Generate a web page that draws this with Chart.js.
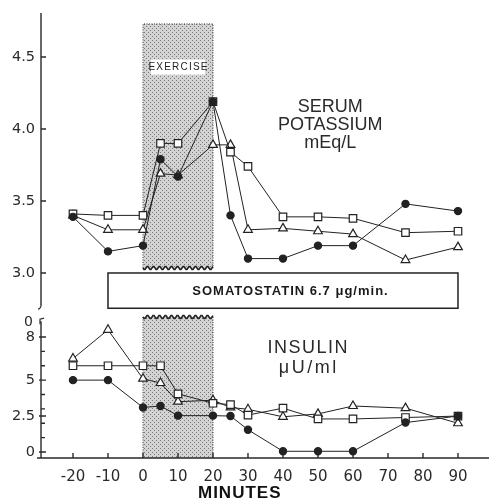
<!DOCTYPE html>
<html><head><meta charset="utf-8">
<script src="https://cdn.jsdelivr.net/npm/chart.js@4.4.0/dist/chart.umd.min.js"></script>
<style>html,body{margin:0;padding:0;background:#fff;overflow:hidden}canvas{display:block}</style>
</head><body><canvas id="c" width="489" height="503" style="width:489px;height:503px"></canvas>
<script>
// ---- data ----
const minutes = [-20, -10, 0, 5, 10, 20, 25, 30, 40, 50, 60, 75, 90];
const potassiumCircle   = [3.39, 3.15, 3.19, 3.79, 3.67, 4.19, 3.40, 3.10, 3.10, 3.19, 3.19, 3.48, 3.43];
const potassiumSquare   = [3.41, 3.40, 3.40, 3.90, 3.90, 4.19, 3.84, 3.74, 3.39, 3.39, 3.38, 3.28, 3.29];
const potassiumTriangle = [3.40, 3.30, 3.30, 3.69, 3.68, 3.89, 3.89, 3.30, 3.31, 3.29, 3.27, 3.09, 3.18];
const insulinCircle   = [5.0, 5.0, 3.1, 3.2, 2.53, 2.53, 2.5, 1.55, 0.05, 0.05, 0.05, 2.05, 2.5];
const insulinSquare   = [6.0, 6.0, 6.0, 6.0, 4.05, 3.39, 3.3, 2.57, 3.05, 2.3, 2.3, 2.4, 2.5];
const insulinTriangle = [6.5, 8.5, 5.1, 4.8, 3.5, 3.6, 3.1, 2.97, 2.45, 2.65, 3.2, 3.05, 2.0];
const xTicks = [-20, -10, 0, 10, 20, 30, 40, 50, 60, 70, 80, 90];
const potassiumTicks = [3.0, 3.5, 4.0, 4.5];
const insulinTicks = [0, 2.5, 5, 8];
const insulinMinorTicks = [1, 2, 3, 4, 6, 7];
const exercisePeriod = [0, 20];
const infusionPeriod = [-10, 90];
const infusionLabel = 'SOMATOSTATIN 6.7 \u03bcg/min.';

const FONT = "'Liberation Sans', Arial, Helvetica, sans-serif";
const TICKFONT = "'DejaVu Sans', 'Liberation Sans', sans-serif";
const INK = '#222';
Chart.defaults.font.family = FONT;
Chart.defaults.color = '#2a2a2a';

function series(label, vals, axis, style, filled) {
  const r = style === 'circle' ? 3.6 : (style === 'rect' ? 5.3 : 5);
  return {
    label, yAxisID: axis,
    data: minutes.map((m, i) => ({x: m, y: vals[i]})),
    borderColor: INK, borderWidth: 1,
    pointStyle: style, pointRadius: r, pointHoverRadius: r,
    pointBackgroundColor: filled ? INK : '#fff',
    pointBorderColor: INK, pointBorderWidth: 1.2,
    tension: 0, fill: false
  };
}

// stipple pattern
const pc = document.createElement('canvas');
pc.width = 4; pc.height = 4;
const pctx = pc.getContext('2d');
pctx.fillStyle = '#d3d3d3'; pctx.fillRect(0, 0, 4, 4);
pctx.fillStyle = '#7a7a7a'; pctx.fillRect(0, 0, 1, 1); pctx.fillRect(2, 2, 1, 1);

function wavy(ctx, x1, x2, yb) {
  ctx.beginPath();
  for (let xx = x1; xx <= x2; xx += 1) {
    const yy = yb + 1.6 * Math.sin((xx - x1) / 6 * 2 * Math.PI);
    if (xx === x1) ctx.moveTo(xx, yy); else ctx.lineTo(xx, yy);
  }
  ctx.stroke();
}
function spaced(ctx, text, x, y, sp) {
  try { ctx.letterSpacing = sp + 'px'; } catch (e) {}
  ctx.fillText(text, x + sp / 2, y);
  try { ctx.letterSpacing = '0px'; } catch (e) {}
}

const decor = {
  id: 'decor',
  beforeDatasetsDraw(chart) {
    const {ctx, chartArea: a, scales: {x, y, y2}} = chart;
    const pat = ctx.createPattern(pc, 'repeat');
    const xl = x.getPixelForValue(exercisePeriod[0]), xr = x.getPixelForValue(exercisePeriod[1]);
    const tTop = y.getPixelForValue(4.73), tBot = y.getPixelForValue(3.035);
    const bTop = y2.getPixelForValue(9.39), bBot = a.bottom;
    ctx.save();
    ctx.fillStyle = pat;
    ctx.fillRect(xl, tTop, xr - xl, tBot - tTop);
    ctx.fillRect(xl, bTop, xr - xl, bBot - bTop);
    ctx.strokeStyle = '#333'; ctx.lineWidth = 1;
    ctx.setLineDash([1, 1.5]);
    ctx.beginPath();
    ctx.moveTo(xl, tBot); ctx.lineTo(xl, tTop); ctx.lineTo(xr, tTop); ctx.lineTo(xr, tBot);
    ctx.moveTo(xl, bTop); ctx.lineTo(xl, bBot);
    ctx.moveTo(xr, bTop); ctx.lineTo(xr, bBot);
    ctx.stroke();
    ctx.setLineDash([]);
    ctx.lineWidth = 1.6; ctx.strokeStyle = '#222';
    wavy(ctx, xl, xr, tBot);
    wavy(ctx, xl, xr, bTop);
    // EXERCISE label
    const cx = (xl + xr) / 2, cy = y.getPixelForValue(4.43);
    ctx.fillStyle = '#fff';
    ctx.fillRect(cx - 27, cy - 7.5, 54, 15);
    ctx.fillStyle = '#222';
    ctx.font = '10px ' + FONT;
    ctx.textAlign = 'center'; ctx.textBaseline = 'middle';
    spaced(ctx, 'EXERCISE', cx, cy + 0.5, 1.2);
    // somatostatin box
    const bx1 = x.getPixelForValue(infusionPeriod[0]), bx2 = x.getPixelForValue(infusionPeriod[1]);
    const by1 = y.getPixelForValue(3.0), by2 = y2.getPixelForValue(10.0);
    ctx.fillStyle = '#fff';
    ctx.fillRect(bx1, by1, bx2 - bx1, by2 - by1);
    ctx.strokeStyle = '#222'; ctx.lineWidth = 1.5;
    ctx.strokeRect(bx1, by1, bx2 - bx1, by2 - by1);
    ctx.fillStyle = '#1a1a1a';
    ctx.font = 'bold 13px ' + FONT;
    spaced(ctx, infusionLabel, x.getPixelForValue(42), (by1 + by2) / 2 + 1, 1);
    // axes lines
    ctx.strokeStyle = '#2a2a2a'; ctx.lineWidth = 1.4;
    ctx.beginPath();
    ctx.moveTo(a.left, a.top); ctx.lineTo(a.left, y.getPixelForValue(2.77));
    ctx.moveTo(a.left, y2.getPixelForValue(9.1)); ctx.lineTo(a.left, a.bottom);
    ctx.moveTo(a.left - 4, a.bottom); ctx.lineTo(a.right, a.bottom);
    potassiumTicks.forEach(v => { const p = y.getPixelForValue(v); ctx.moveTo(a.left, p); ctx.lineTo(a.left + 5, p); });
    insulinTicks.forEach(v => { const p = y2.getPixelForValue(v); ctx.moveTo(a.left - 2, p); ctx.lineTo(a.left + 5, p); });
    insulinMinorTicks.forEach(v => { const p = y2.getPixelForValue(v); ctx.moveTo(a.left, p); ctx.lineTo(a.left + 4, p); });
    xTicks.forEach(v => { const p = x.getPixelForValue(v); ctx.moveTo(p, a.bottom); ctx.lineTo(p, a.bottom - 5); });
    ctx.stroke();
    // axis break marks
    const bkY = y2.getPixelForValue(9.1);
    ctx.lineWidth = 1.2;
    ctx.beginPath();
    ctx.moveTo(a.left + 3, bkY - 3); ctx.lineTo(a.left - 1, bkY - 2); ctx.lineTo(a.left - 1, bkY + 3);
    const tkY = y.getPixelForValue(2.77);
    ctx.moveTo(a.left, tkY); ctx.quadraticCurveTo(a.left - 1, tkY + 3, a.left - 3, tkY + 3);
    ctx.stroke();
    ctx.font = '14px ' + TICKFONT; ctx.fillStyle = '#2a2a2a';
    ctx.textAlign = 'right';
    ctx.fillText('0', a.left - 8, bkY + 1);
    ctx.restore();
  },
  afterDraw(chart) {
    const {ctx, chartArea: a, scales: {x, y, y2}} = chart;
    ctx.save();
    ctx.fillStyle = '#2a2a2a';
    ctx.font = '18px ' + FONT;
    ctx.textAlign = 'center'; ctx.textBaseline = 'middle';
    const kx = x.getPixelForValue(53.5);
    ['SERUM', 'POTASSIUM', 'mEq/L'].forEach((t, i) => ctx.fillText(t, kx, y.getPixelForValue(4.15 - i * 0.125)));
    const ix = x.getPixelForValue(47);
    spaced(ctx, 'INSULIN', ix, y2.getPixelForValue(7.25), 1.5);
    spaced(ctx, '\u03bcU/ml', ix, y2.getPixelForValue(5.85), 2.5);
    // axis title
    ctx.fillStyle = '#111';
    ctx.font = 'bold 17px ' + FONT;
    spaced(ctx, 'MINUTES', x.getPixelForValue(27.5), a.bottom + 35, 1);
    ctx.restore();
  }
};

new Chart(document.getElementById('c'), {
  type: 'line',
  data: {
    datasets: [
      series('K circle', potassiumCircle, 'y', 'circle', true),
      series('K square', potassiumSquare, 'y', 'rect', false),
      series('K triangle', potassiumTriangle, 'y', 'triangle', false),
      series('Insulin circle', insulinCircle, 'y2', 'circle', true),
      series('Insulin square', insulinSquare, 'y2', 'rect', false),
      series('Insulin triangle', insulinTriangle, 'y2', 'triangle', false)
    ]
  },
  options: {
    responsive: false, animation: false, devicePixelRatio: 1,
    layout: {autoPadding: false, padding: {top: 13, right: 0, bottom: 0, left: 0}},
    plugins: {legend: {display: false}, tooltip: {enabled: false}},
    scales: {
      x: {
        type: 'linear', min: -29.14, max: 98.86,
        afterBuildTicks: s => { s.ticks = xTicks.map(v => ({value: v})); },
        afterFit: s => { s.height = 45; s.paddingLeft = 0; s.paddingRight = 0; },
        grid: {display: false, drawTicks: false}, border: {display: false},
        ticks: {padding: 10, font: {size: 15, family: TICKFONT}, autoSkip: false, maxRotation: 0}
      },
      y: {
        type: 'linear', position: 'left', stack: 'v', stackWeight: 299, weight: 1,
        min: 2.729, max: 4.806,
        afterBuildTicks: s => { s.ticks = potassiumTicks.map(v => ({value: v})); },
        afterFit: s => { s.width = 41; s.paddingTop = 0; s.paddingBottom = 0; },
        grid: {display: false, drawTicks: false}, border: {display: false},
        ticks: {padding: 6, font: {size: 14.5, family: TICKFONT}, callback: v => Number(v).toFixed(1)}
      },
      y2: {
        type: 'linear', position: 'left', stack: 'v', stackWeight: 146, weight: 0,
        min: -0.417, max: 9.74,
        afterBuildTicks: s => { s.ticks = insulinTicks.map(v => ({value: v})); },
        afterFit: s => { s.width = 41; s.paddingTop = 0; s.paddingBottom = 0; },
        grid: {display: false, drawTicks: false}, border: {display: false},
        ticks: {padding: 6, font: {size: 14.5, family: TICKFONT}, callback: v => String(v)}
      }
    }
  },
  plugins: [decor]
});
</script>
</body></html>
